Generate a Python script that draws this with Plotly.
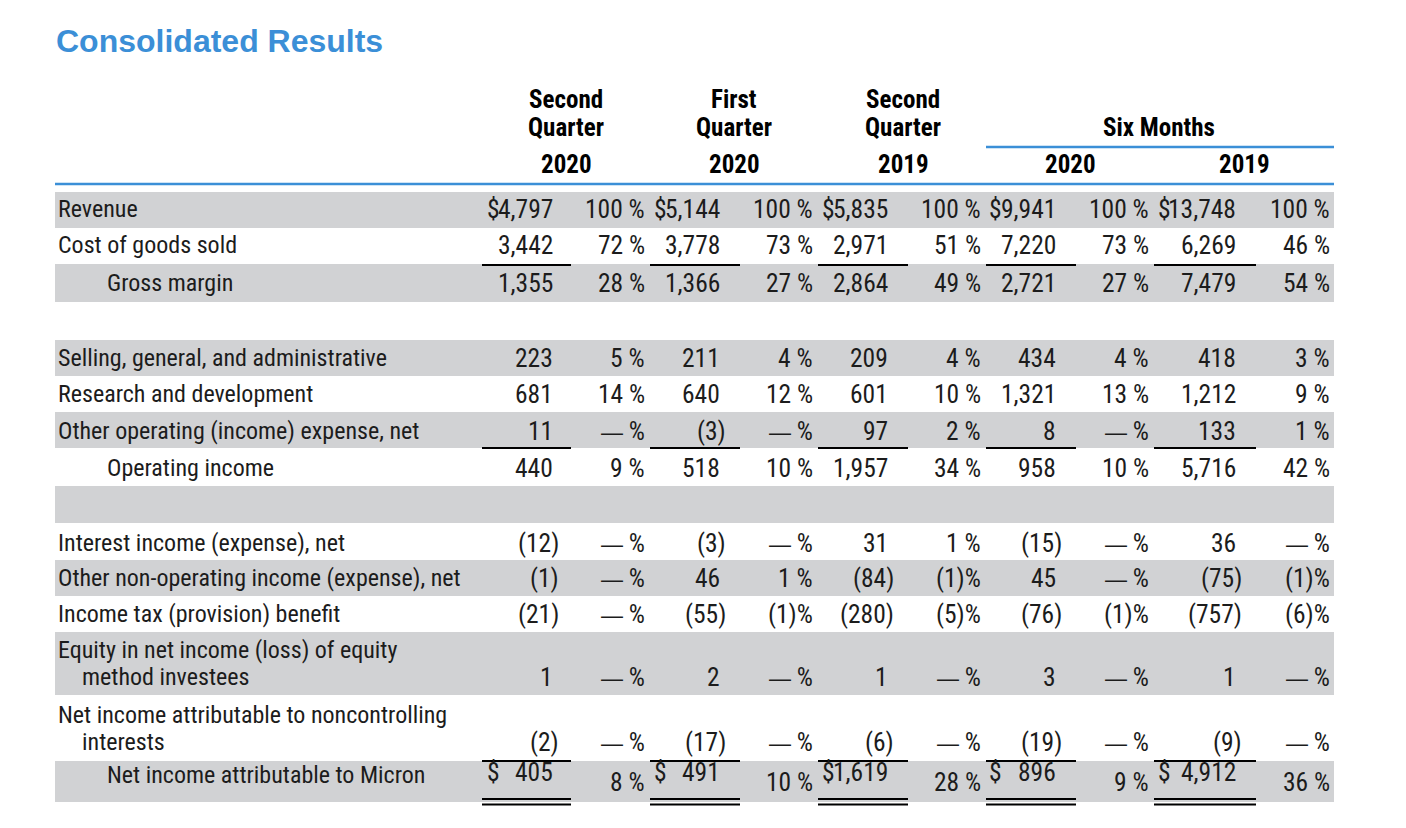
import plotly.graph_objects as go

# ---- data read from the statement (US$ millions, % of revenue) ----
title = "Consolidated Results"
periodTop = ["Second", "First", "Second"]
periodMid = ["Quarter", "Quarter", "Quarter"]
years = ["2020", "2020", "2019", "2020", "2019"]
groupHead = "Six Months"

rowLabels = [
    "Revenue",
    "Cost of goods sold",
    "Gross margin",
    "Selling, general, and administrative",
    "Research and development",
    "Other operating (income) expense, net",
    "Operating income",
    "Interest income (expense), net",
    "Other non-operating income (expense), net",
    "Income tax (provision) benefit",
    "Equity in net income (loss) of equity\nmethod investees",
    "Net income attributable to noncontrolling\ninterests",
    "Net income attributable to Micron",
]

q2_2020 = [4797, 3442, 1355, 223, 681, 11, 440, -12, -1, -21, 1, -2, 405]
q2_2020Pct = [100, 72, 28, 5, 14, 0, 9, 0, 0, 0, 0, 0, 8]
q1_2020 = [5144, 3778, 1366, 211, 640, -3, 518, -3, 46, -55, 2, -17, 491]
q1_2020Pct = [100, 73, 27, 4, 12, 0, 10, 0, 1, -1, 0, 0, 10]
q2_2019 = [5835, 2971, 2864, 209, 601, 97, 1957, 31, -84, -280, 1, -6, 1619]
q2_2019Pct = [100, 51, 49, 4, 10, 2, 34, 1, -1, -5, 0, 0, 28]
six_2020 = [9941, 7220, 2721, 434, 1321, 8, 958, -15, 45, -76, 3, -19, 896]
six_2020Pct = [100, 73, 27, 4, 13, 0, 10, 0, 0, -1, 0, 0, 9]
six_2019 = [13748, 6269, 7479, 418, 1212, 133, 5716, 36, -75, -757, 1, -9, 4912]
six_2019Pct = [100, 46, 54, 3, 9, 1, 42, 0, -1, -6, 0, 0, 36]

amountCols = [q2_2020, q1_2020, q2_2019, six_2020, six_2019]
pctCols = [q2_2020Pct, q1_2020Pct, q2_2019Pct, six_2020Pct, six_2019Pct]

# ---- layout of the table (pixel units on hidden axes) ----
W, H = 1406, 828
PAD = 8  # page body margin; axes are offset so coordinates equal screen pixels
BODY = "Roboto Condensed, DejaVu Sans Condensed, sans-serif"
BLUE = "#3b8fd7"
GRAY = "#d1d2d4"
INK = "#1c1c1c"
LABEL_SIZE = 24
NUM_SIZE = 25.5
HEAD_SIZE = 25

rowY = [209, 244.5, 282.5, 357.5, 394, 431, 467.5, 542.5, 578, 614, 677, 742, 775]
indentRows = {2, 6, 12}
dollarRows = {0, 12}
underlineAfter = {1: 265, 5: 448, 11: 761}
doubleLineY = [799, 804.5]
bands = [(192, 228), (264, 302), (340, 376), (412, 448), (486, 523),
         (560, 596), (632, 695), (761, 802)]

numRight = [554, 721, 889, 1057, 1237]
dollarLeft = [486, 653, 821, 988, 1157]
pctRight = [646, 814, 982, 1150, 1331]
lineSpan = [(482, 571), (650, 740), (818, 908), (986, 1076), (1154, 1256)]
headCenter = [566, 734, 903, 1070, 1244]

# long dash as in the source, drawn from a face whose em dash is a full em
DASH = '<span style="font-family:Liberation Sans;font-size:22px">—</span>'


def fmtAmount(v):
    s = f"{abs(v):,}"
    return f"({s})" if v < 0 else s


def fmtPct(v):
    if v == 0:
        return DASH + " %"
    if v < 0:
        return f"({abs(v)})%"
    return f"{v} %"


annotations = []
shapes = []


def addText(x, y, text, anchor, size=LABEL_SIZE, bold=False, color=INK, family=BODY):
    annotations.append(dict(
        x=x, y=y, xref="x", yref="y", text=f"<b>{text}</b>" if bold else text,
        xanchor=anchor, yanchor="middle", showarrow=False, borderpad=0,
        font=dict(family=family, size=size, color=color),
    ))


def addLine(x0, x1, y, color="#000000", width=2):
    shapes.append(dict(type="line", xref="x", yref="y", x0=x0, x1=x1, y0=y, y1=y,
                       line=dict(color=color, width=width)))


# gray row bands go in first so everything else sits on top
for top, bottom in bands:
    shapes.append(dict(type="rect", xref="x", yref="y", x0=55, x1=1334, y0=top, y1=bottom,
                       fillcolor=GRAY, line=dict(width=0), layer="below"))

# title
addText(55, 41, title, "left", size=32, bold=True, color=BLUE,
        family="Liberation Sans, Arial, sans-serif")

# column headings
for c in range(3):
    addText(headCenter[c], 99, periodTop[c], "center", size=HEAD_SIZE, bold=True, color="#000")
    addText(headCenter[c], 127, periodMid[c], "center", size=HEAD_SIZE, bold=True, color="#000")
addText(1159, 127, groupHead, "center", size=HEAD_SIZE, bold=True, color="#000")
for c, yr in enumerate(years):
    addText(headCenter[c], 164, yr, "center", size=HEAD_SIZE, bold=True, color="#000")
addLine(986, 1334, 147, color=BLUE, width=2.5)
addLine(55, 1334, 184, color=BLUE, width=2.5)

# body rows
for r, label in enumerate(rowLabels):
    y = rowY[r]
    parts = label.split("\n")
    if len(parts) == 2:
        addText(57, y - 27, parts[0], "left")
        addText(81, y, parts[1], "left")
    else:
        addText(106 if r in indentRows else 57, y, label, "left")

    for c in range(5):
        v = amountCols[c][r]
        p = pctCols[c][r]
        numY = y - 3 if r == 12 else y
        pctY = y + 7 if r == 12 else y
        addText(numRight[c] + (6 if v < 0 else 0), numY, fmtAmount(v), "right", size=NUM_SIZE)
        if r in dollarRows:
            addText(dollarLeft[c], numY, "$", "left", size=NUM_SIZE)
        addText(pctRight[c], pctY, fmtPct(p), "right", size=NUM_SIZE)

# single and double rules under the amount columns
for c in range(5):
    x0, x1 = lineSpan[c]
    for ly in underlineAfter.values():
        addLine(x0, x1, ly)
    for ly in doubleLineY:
        addLine(x0, x1, ly)

fig = go.Figure()
fig.add_trace(go.Scatter(x=[PAD, W], y=[PAD, H], mode="markers",
                         marker=dict(opacity=0), hoverinfo="skip", showlegend=False))
fig.update_layout(
    width=W, height=H,
    margin=dict(l=0, r=0, t=0, b=0),
    paper_bgcolor="white", plot_bgcolor="white",
    xaxis=dict(range=[PAD, W + PAD], visible=False, fixedrange=True),
    yaxis=dict(range=[H + PAD, PAD], visible=False, fixedrange=True),
    annotations=annotations,
    shapes=shapes,
)

fig.write_html("out.html")
